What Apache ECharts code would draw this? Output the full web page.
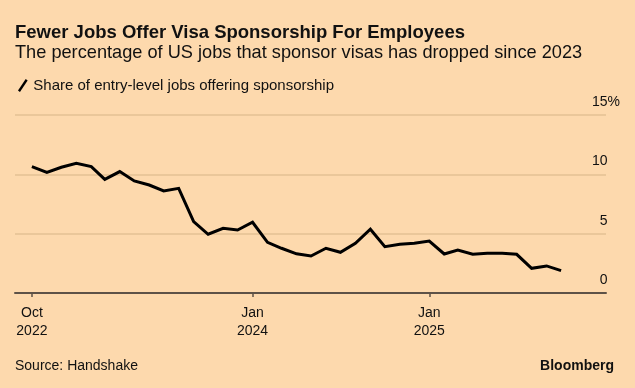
<!DOCTYPE html>
<html>
<head>
<meta charset="utf-8">
<script src="https://cdn.jsdelivr.net/npm/echarts@6/dist/echarts.min.js"></script>
<style>
html,body{margin:0;padding:0;background:#fdd9ad;}
#c{width:635px;height:388px;}
</style>
</head>
<body>
<div id="c"></div>
<script>
// Data
var months = ['2022-10-01','2022-11-01','2022-12-01','2023-01-01','2023-02-01','2023-03-01','2023-04-01','2023-05-01','2023-06-01','2023-07-01','2023-08-01','2023-09-01','2023-10-01','2023-11-01','2023-12-01','2024-01-01','2024-02-01','2024-03-01','2024-04-01','2024-05-01','2024-06-01','2024-07-01','2024-08-01','2024-09-01','2024-10-01','2024-11-01','2024-12-01','2025-01-01','2025-02-01','2025-03-01','2025-04-01','2025-05-01','2025-06-01','2025-07-01','2025-08-01','2025-09-01','2025-10-01'];
var sponsorShare = [10.65,10.17,10.6,10.93,10.65,9.58,10.23,9.44,9.1,8.6,8.82,6.01,4.95,5.45,5.31,5.96,4.27,3.77,3.3,3.12,3.77,3.43,4.19,5.37,3.9,4.1,4.19,4.38,3.29,3.62,3.26,3.35,3.35,3.26,2.08,2.28,1.88];
var xTickDates = ['2022-10-01','2024-01-01','2025-01-01'];
var xTickLabels = ['Oct\n2022','Jan\n2024','Jan\n2025'];
var yTicks = [0,5,10,15];
var seriesName = 'Share of entry-level jobs offering sponsorship';

var FONT = '"Liberation Sans", Arial, sans-serif';
function ts(d){return new Date(d + 'T00:00:00Z').getTime();}
var chart = echarts.init(document.getElementById('c'), null, {renderer:'canvas'});
var tickTs = xTickDates.map(ts);
var labelMap = {};
tickTs.forEach(function(t,i){labelMap[t]=xTickLabels[i];});

chart.setOption({
  backgroundColor:'#fdd9ad',
  animation:false,
  textStyle:{fontFamily:FONT},
  title:[
    {text:'Fewer Jobs Offer Visa Sponsorship For Employees', left:15, top:23, padding:0,
     textStyle:{fontFamily:FONT,fontSize:18.5,fontWeight:'bold',color:'#111'}},
    {text:'The percentage of US jobs that sponsor visas has dropped since 2023', left:15, top:44, padding:0,
     textStyle:{fontFamily:FONT,fontSize:18.2,fontWeight:'normal',color:'#111'}},
    {text:'Source: Handshake', left:15, top:359, padding:0,
     textStyle:{fontFamily:FONT,fontSize:14,fontWeight:'normal',color:'#111'}},
    {text:'Bloomberg', right:21, top:359, padding:0,
     textStyle:{fontFamily:FONT,fontSize:14,fontWeight:'bold',color:'#111'}}
  ],
  legend:{
    left:13, top:73, itemWidth:11, itemHeight:13, itemGap:10,
    icon:'path://M0,12 L8,0 L10,1.5 L2,13.5 Z',
    data:[{name:seriesName, itemStyle:{color:'#000'}}],
    textStyle:{fontFamily:FONT,fontSize:15,color:'#111'}
  },
  grid:{left:15, right:29, top:115, bottom:95, containLabel:false, outerBoundsMode:'none'},
  xAxis:{
    type:'value',
    min:ts('2022-08-27'),
    max:ts('2026-01-02'),
    axisLine:{show:true, onZero:false, lineStyle:{color:'#5e5247', width:2}},
    axisTick:{show:true, customValues:tickTs, length:4, lineStyle:{color:'#5e5247', width:1.5}},
    axisLabel:{customValues:tickTs, formatter:function(v){return labelMap[v]||'';},
      fontFamily:FONT, fontSize:14, lineHeight:18, color:'#111', margin:11},
    splitLine:{show:false}
  },
  yAxis:{
    type:'value', position:'right', min:0, max:15, interval:5,
    axisLine:{show:false}, axisTick:{show:false},
    splitLine:{show:true, lineStyle:{color:'#e3c195', width:1.5}},
    axisLabel:{inside:true, margin:-14, verticalAlign:'bottom', padding:[0,0,6,0],
      formatter:function(v){return v===15 ? '{n|15%}' : '{n|'+v+'}{h|%}';},
      rich:{n:{fontFamily:FONT,fontSize:14,color:'#111'}, h:{fontFamily:FONT,fontSize:14,color:'rgba(0,0,0,0)'}}
    }
  },
  series:[{
    name:seriesName, type:'line', showSymbol:false, symbol:'none',
    lineStyle:{color:'#000', width:3, join:'miter'},
    itemStyle:{color:'#000'},
    data:months.map(function(m,i){return [ts(m), sponsorShare[i]];})
  }]
});
</script>
</body>
</html>
